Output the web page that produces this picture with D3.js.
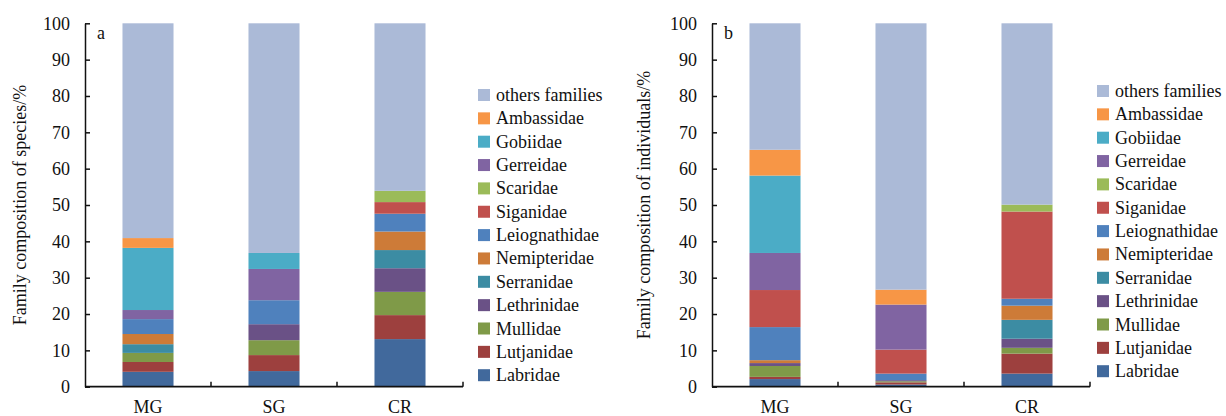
<!DOCTYPE html>
<html lang="en">
<head>
<meta charset="utf-8">
<title>Family composition</title>
<script src="https://cdn.jsdelivr.net/npm/d3@7/dist/d3.min.js"></script>
<style>
body{margin:0;background:#fff;}
svg{display:block;font-family:"Liberation Serif","Times New Roman",serif;}
</style>
</head>
<body>
<div id="chart"></div>
<script>
// sites and families (bottom to top of each stack)
var sites = ["MG", "SG", "CR"];
var families = ["Labridae", "Lutjanidae", "Mullidae", "Lethrinidae", "Serranidae", "Nemipteridae",
  "Leiognathidae", "Siganidae", "Scaridae", "Gerreidae", "Gobiidae", "Ambassidae", "others families"];
var colors = ["#41699c", "#9d403e", "#7f9a48", "#6a5186", "#3c8ca3", "#cd7b38",
  "#4f81bd", "#c0504d", "#9bbb59", "#8064a2", "#4bacc6", "#f79646", "#abbad7"];

// panel a: % of species, one array per site, same order as families
var speciesMG = [4.1, 2.7, 2.5, 0, 2.4, 2.8, 4.1, 0, 0, 2.5, 17.1, 2.7, 59.1];
var speciesSG = [4.3, 4.4, 4.1, 4.4, 0, 0, 6.6, 0, 0, 8.6, 4.4, 0, 63.2];
var speciesCR = [13.1, 6.6, 6.4, 6.5, 5.0, 5.1, 4.9, 3.2, 3.1, 0, 0, 0, 46.1];

// panel b: % of individuals
var indivMG = [2.1, 0.6, 3.0, 0.8, 0, 0.8, 9.1, 10.2, 0, 10.2, 21.3, 7.1, 34.8];
var indivSG = [0.6, 0.6, 0.3, 0.3, 0, 0, 1.8, 6.6, 0, 12.4, 0, 4.1, 73.3];
var indivCR = [3.6, 5.5, 1.6, 2.5, 5.2, 3.9, 1.9, 24.0, 1.9, 0, 0, 0, 49.9];

var yTicks = [0, 10, 20, 30, 40, 50, 60, 70, 80, 90, 100];

var width = 1226, height = 416;
var svg = d3.select("#chart").append("svg")
    .attr("width", width)
    .attr("height", height);

var y = d3.scaleLinear().domain([0, 100]).range([386.7, 23.3]);

function rows(arrs){
  return sites.map(function(s, i){
    var r = {site: s};
    families.forEach(function(f, j){ r[f] = arrs[i][j]; });
    return r;
  });
}

function panel(opt){
  var g = svg.append("g");
  var x = d3.scaleBand().domain(sites).range([opt.x0, opt.x1]);
  var bw = x.bandwidth() * 0.405;

  var series = d3.stack().keys(families)(rows(opt.data));
  g.selectAll("g.layer").data(series).enter()
    .append("g").attr("class", "layer")
    .attr("fill", function(d, i){ return colors[i]; })
    .selectAll("rect").data(function(d){ return d; }).enter()
    .append("rect")
    .attr("x", function(d){ return x(d.data.site) + (x.bandwidth() - bw) / 2; })
    .attr("width", bw)
    .attr("y", function(d){ return y(d[1]); })
    .attr("height", function(d){ return Math.max(0, y(d[0]) - y(d[1])); });

  // y axis, inward ticks
  var ya = g.append("g")
    .attr("transform", "translate(" + opt.x0 + ",0)")
    .call(d3.axisLeft(y).tickValues(yTicks).tickSize(-5).tickSizeOuter(0).tickPadding(15));
  ya.selectAll("path,line").attr("stroke", "#111").attr("stroke-width", 1.5);
  ya.selectAll("text").attr("font-size", 18).attr("font-family", "Liberation Serif").attr("fill", "#111");

  // x axis line with boundary ticks
  g.append("line")
    .attr("x1", opt.x0).attr("x2", opt.x1)
    .attr("y1", y(0)).attr("y2", y(0))
    .attr("stroke", "#111").attr("stroke-width", 1.8);
  g.selectAll("line.xt").data(sites).enter()
    .append("line").attr("class", "xt")
    .attr("x1", function(d){ return x(d) + x.bandwidth(); })
    .attr("x2", function(d){ return x(d) + x.bandwidth(); })
    .attr("y1", y(0)).attr("y2", y(0) - 5)
    .attr("stroke", "#111").attr("stroke-width", 1.5);
  g.selectAll("text.xl").data(sites).enter()
    .append("text").attr("class", "xl")
    .attr("x", function(d){ return x(d) + x.bandwidth() / 2; })
    .attr("y", 412.5)
    .attr("text-anchor", "middle")
    .attr("font-size", 18).attr("fill", "#111")
    .text(function(d){ return d; });

  // panel letter
  g.append("text")
    .attr("x", opt.x0 + 12).attr("y", 39)
    .attr("font-size", 18).attr("fill", "#111")
    .text(opt.letter);

  // y title
  g.append("text")
    .attr("transform", "translate(" + opt.titleX + ",205) rotate(-90)")
    .attr("text-anchor", "middle")
    .attr("font-size", 18).attr("fill", "#111")
    .text(opt.title);

  // legend, top to bottom reversed
  var leg = g.selectAll("g.leg").data(families.slice().reverse()).enter()
    .append("g").attr("class", "leg")
    .attr("transform", function(d, i){ return "translate(" + opt.legX + "," + (opt.legY + i * 23.35) + ")"; });
  leg.append("rect")
    .attr("x", 0).attr("y", -6).attr("width", 12).attr("height", 12)
    .attr("fill", function(d){ return colors[families.indexOf(d)]; });
  leg.append("text")
    .attr("x", 18).attr("y", 6)
    .attr("font-size", 18).attr("fill", "#111")
    .text(function(d){ return d; });
}

panel({x0: 85, x1: 463, data: [speciesMG, speciesSG, speciesCR], letter: "a",
  title: "Family composition of species/%", titleX: 26, legX: 478, legY: 95});
panel({x0: 712, x1: 1090, data: [indivMG, indivSG, indivCR], letter: "b",
  title: "Family composition of individuals/%", titleX: 650, legX: 1097, legY: 91});
</script>
</body>
</html>
